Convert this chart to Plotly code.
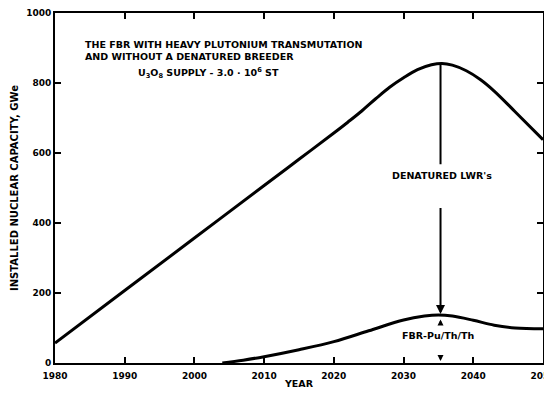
import plotly.graph_objects as go

# Curves (GWe)
lwr_years = [1980, 1990, 2000, 2010, 2015, 2020, 2022, 2024, 2026, 2028, 2030, 2032, 2034, 2035.5,
             2037, 2039, 2041, 2043, 2046, 2050]
lwr_capacity = [57, 207, 357, 507, 582, 657, 688, 720, 755, 788, 815, 838, 852, 856,
                851, 835, 810, 777, 718, 638]

fbr_years = [2004, 2007, 2010, 2015, 2020, 2025, 2030, 2033, 2035, 2037, 2040, 2043, 2046, 2050]
fbr_capacity = [0, 8, 18, 38, 61, 92, 123, 134, 137, 134, 122, 108, 100, 98]

x_ticks = [1980, 1990, 2000, 2010, 2020, 2030, 2040, 2050]
y_ticks = [0, 200, 400, 600, 800, 1000]

FONT = "DejaVu Sans"
BLACK = "black"

fig = go.Figure()

# upper curve: total installed capacity
fig.add_trace(go.Scatter(
    x=lwr_years, y=lwr_capacity, mode="lines",
    line=dict(color=BLACK, width=3, shape="spline", smoothing=1.0),
    hoverinfo="skip", showlegend=False
))

# lower curve: FBR share
fig.add_trace(go.Scatter(
    x=fbr_years, y=fbr_capacity, mode="lines",
    line=dict(color=BLACK, width=3, shape="spline", smoothing=1.0),
    hoverinfo="skip", showlegend=False
))

txt = dict(family=FONT, size=9.5, color=BLACK, weight="bold")

annotations = [
    dict(x=1984, y=893, xref="x", yref="y", xanchor="left", yanchor="middle",
         align="left", showarrow=False, font=txt,
         text="THE FBR WITH HEAVY PLUTONIUM TRANSMUTATION<br>AND WITHOUT A DENATURED BREEDER"),
    dict(x=2002, y=830, xref="x", yref="y", showarrow=False, font=txt,
         text="U<sub>3</sub>O<sub>8</sub> SUPPLY - 3.0 \u00b7 10<sup>6</sup> ST"),
    dict(x=2035.5, y=536, xref="x", yref="y", showarrow=False, font=txt,
         text="DENATURED LWR's"),
    dict(x=2034.9, y=79, xref="x", yref="y", showarrow=False, font=txt,
         text="FBR-Pu/Th/Th"),
    # line from the peak down to the label
    dict(x=2035.3, y=568, ax=2035.3, ay=856, xref="x", yref="y", axref="x", ayref="y",
         text="", showarrow=True, arrowhead=0, arrowwidth=2, arrowcolor=BLACK),
    # arrow from the label down to the FBR curve
    dict(x=2035.3, y=140, ax=2035.3, ay=447, xref="x", yref="y", axref="x", ayref="y",
         text="", showarrow=True, arrowhead=2, arrowsize=0.9, arrowwidth=2, arrowcolor=BLACK),
    # small arrows around the FBR label
    dict(x=2035.3, y=124, ax=2035.3, ay=110, xref="x", yref="y", axref="x", ayref="y",
         text="", showarrow=True, arrowhead=2, arrowsize=0.8, arrowwidth=1.5, arrowcolor=BLACK),
    dict(x=2035.3, y=6, ax=2035.3, ay=22, xref="x", yref="y", axref="x", ayref="y",
         text="", showarrow=True, arrowhead=2, arrowsize=0.8, arrowwidth=1.5, arrowcolor=BLACK),
]

# the page body adds an 8px margin; keep the height small enough that the page never scrolls
fig.update_layout(
    width=544, height=381,
    margin=dict(l=47, r=9, t=5, b=26),
    paper_bgcolor="white", plot_bgcolor="white",
    font=dict(family=FONT, size=9, color=BLACK, weight="bold"),
    annotations=annotations,
)

fig.update_xaxes(
    range=[1980, 2050], tickvals=x_ticks, automargin=False,
    showgrid=False, zeroline=False,
    showline=True, linewidth=2, linecolor=BLACK, mirror="ticks",
    ticks="inside", ticklen=6, tickwidth=1.5, tickcolor=BLACK,
    ticklabelstandoff=3, ticklabeloverflow="allow",
    tickfont=dict(family=FONT, size=9, color=BLACK, weight="bold"),
    title=dict(text="YEAR", font=dict(family=FONT, size=9.5, color=BLACK, weight="bold"), standoff=4),
)
fig.update_yaxes(
    range=[0, 1000], tickvals=y_ticks, automargin=False,
    showgrid=False, zeroline=False,
    showline=True, linewidth=2, linecolor=BLACK, mirror="ticks",
    ticks="inside", ticklen=6, tickwidth=1.5, tickcolor=BLACK,
    tickfont=dict(family=FONT, size=9, color=BLACK, weight="bold"),
    title=dict(text="INSTALLED NUCLEAR CAPACITY, GWe",
               font=dict(family=FONT, size=10, color=BLACK, weight="bold"), standoff=6),
)

fig.write_html("out.html")
